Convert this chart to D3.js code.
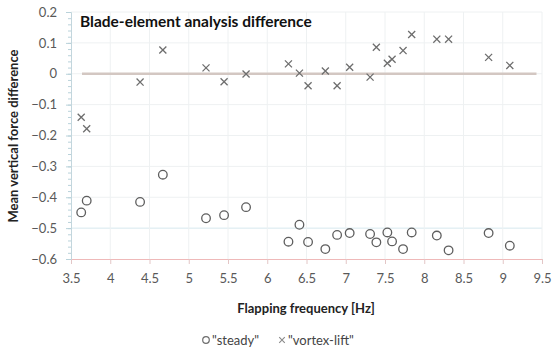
<!DOCTYPE html>
<html>
  <meta charset="utf-8">
  <head>
    <title>Blade-element analysis difference</title>
  </head>
  <style>
    body { margin: 0; background: #fff; }
    text { font-family: Lato, "Open Sans", sans-serif; }
    .tick text { fill: #595959; font-size: 13px; }
    .grid line { stroke: #eef1f2; stroke-width: 1; }
  </style>
  <script src="https://d3js.org/d3.v7.min.js"></script>
  <body>
    <svg width="552" height="353"></svg>
    <script>
      // flapping frequency [Hz], shared by both series
      var frequency = [3.63, 3.70, 4.38, 4.67, 5.22, 5.45, 5.73, 6.27, 6.41, 6.52, 6.74, 6.89,
                       7.05, 7.31, 7.39, 7.53, 7.59, 7.73, 7.84, 8.16, 8.31, 8.82, 9.09];
      var steady = [-0.449, -0.411, -0.415, -0.327, -0.468, -0.458, -0.432, -0.544, -0.489, -0.545, -0.568, -0.522,
                    -0.516, -0.519, -0.546, -0.514, -0.543, -0.568, -0.514, -0.524, -0.572, -0.516, -0.557];
      var vortexLift = [-0.141, -0.178, -0.027, 0.077, 0.019, -0.026, -0.001, 0.032, 0.002, -0.039, 0.009, -0.039,
                        0.021, -0.011, 0.086, 0.034, 0.047, 0.075, 0.127, 0.112, 0.112, 0.053, 0.027];
      var zeroLine = [[3.64, 0], [9.43, 0]];
      var xTicks = [3.5, 4, 4.5, 5, 5.5, 6, 6.5, 7, 7.5, 8, 8.5, 9, 9.5];
      var yTicks = [0.2, 0.1, 0, -0.1, -0.2, -0.3, -0.4, -0.5, -0.6];

      var svg = d3.select("svg");

      var x = d3.scaleLinear().domain([3.5, 9.5]).range([71, 542]);
      var y = d3.scaleLinear().domain([-0.6, 0.2]).range([259, 12]);

      // grid
      svg.append("g").attr("class", "grid")
        .selectAll("line").data(yTicks.slice(0, -1)).enter().append("line")
          .attr("x1", x(3.5)).attr("x2", x(9.5))
          .attr("y1", function(d) { return y(d); }).attr("y2", function(d) { return y(d); })
          .style("stroke", function(d) { return d == -0.5 ? "#d6e8ee" : null; });
      svg.append("g").attr("class", "grid")
        .selectAll("line").data(xTicks.slice(1)).enter().append("line")
          .attr("x1", function(d) { return x(d); }).attr("x2", function(d) { return x(d); })
          .attr("y1", y(0.2)).attr("y2", y(-0.6));

      // zero reference line
      svg.append("path")
        .attr("d", d3.line().x(function(d) { return x(d[0]); }).y(function(d) { return y(d[1]); })(zeroLine))
        .attr("stroke", "#d3c7c2").attr("stroke-width", 2.5).attr("fill", "none");

      // x axis
      var gx = svg.append("g").attr("transform", "translate(0," + y(-0.6) + ")")
        .call(d3.axisBottom(x).tickValues(xTicks).tickSize(5).tickPadding(10)
          .tickFormat(function(d) { return d; }));
      gx.select(".domain").attr("stroke", "#efb9b9");
      gx.selectAll(".tick line").attr("stroke", "#e3c6c6");

      // y axis with minor ticks
      var gyMinor = svg.append("g").attr("transform", "translate(" + x(3.5) + ",0)")
        .call(d3.axisLeft(y).tickValues(d3.range(-0.6, 0.2001, 0.02)).tickSize(3).tickFormat(""));
      gyMinor.select(".domain").remove();
      gyMinor.selectAll(".tick line").attr("stroke", "#b9d2da");
      var gy = svg.append("g").attr("transform", "translate(" + x(3.5) + ",0)")
        .call(d3.axisLeft(y).tickValues(yTicks).tickSize(5).tickPadding(9)
          .tickFormat(function(d) { return d == 0 ? "0" : d3.format(".1f")(d); }));
      gy.select(".domain").attr("stroke", "#c3d6dd");
      gy.selectAll(".tick line").attr("stroke", "#b9d2da");

      // series
      var cross = d3.symbol().type(d3.symbolX).size(34);
      svg.append("g").selectAll("path").data(vortexLift).enter().append("path")
        .attr("transform", function(d, i) { return "translate(" + x(frequency[i]) + "," + y(d) + ")"; })
        .attr("d", cross).attr("fill", "none").attr("stroke", "#6e6e6e").attr("stroke-width", 1.3);
      svg.append("g").selectAll("circle").data(steady).enter().append("circle")
        .attr("cx", function(d, i) { return x(frequency[i]); })
        .attr("cy", function(d) { return y(d); })
        .attr("r", 4.3).attr("fill", "none").attr("stroke", "#5e5e5e").attr("stroke-width", 1.3);

      // texts
      svg.append("text").attr("x", 80).attr("y", 27)
        .attr("font-size", 15.5).attr("font-weight", "bold").attr("fill", "#111")
        .text("Blade-element analysis difference");
      svg.append("text").attr("x", 306).attr("y", 313).attr("text-anchor", "middle")
        .attr("font-size", 13).attr("font-weight", "bold").attr("fill", "#222")
        .text("Flapping frequency [Hz]");
      svg.append("text").attr("transform", "translate(18,136) rotate(-90)").attr("text-anchor", "middle")
        .attr("font-size", 13).attr("font-weight", "bold").attr("fill", "#222")
        .text("Mean vertical force difference");

      // legend
      var lg = svg.append("g").attr("transform", "translate(0,340)");
      lg.append("circle").attr("cx", 206).attr("cy", 0).attr("r", 3.3)
        .attr("fill", "none").attr("stroke", "#6e6e6e").attr("stroke-width", 1.2);
      lg.append("text").attr("x", 212).attr("y", 4.5).attr("font-size", 13).attr("fill", "#444").text("\"steady\"");
      lg.append("path").attr("transform", "translate(282,0)").attr("d", d3.symbol().type(d3.symbolX).size(22))
        .attr("fill", "none").attr("stroke", "#8a8a8a").attr("stroke-width", 1.1);
      lg.append("text").attr("x", 288).attr("y", 4.5).attr("font-size", 13).attr("fill", "#444").text("\"vortex-lift\"");
    </script>
  </body>
</html>
